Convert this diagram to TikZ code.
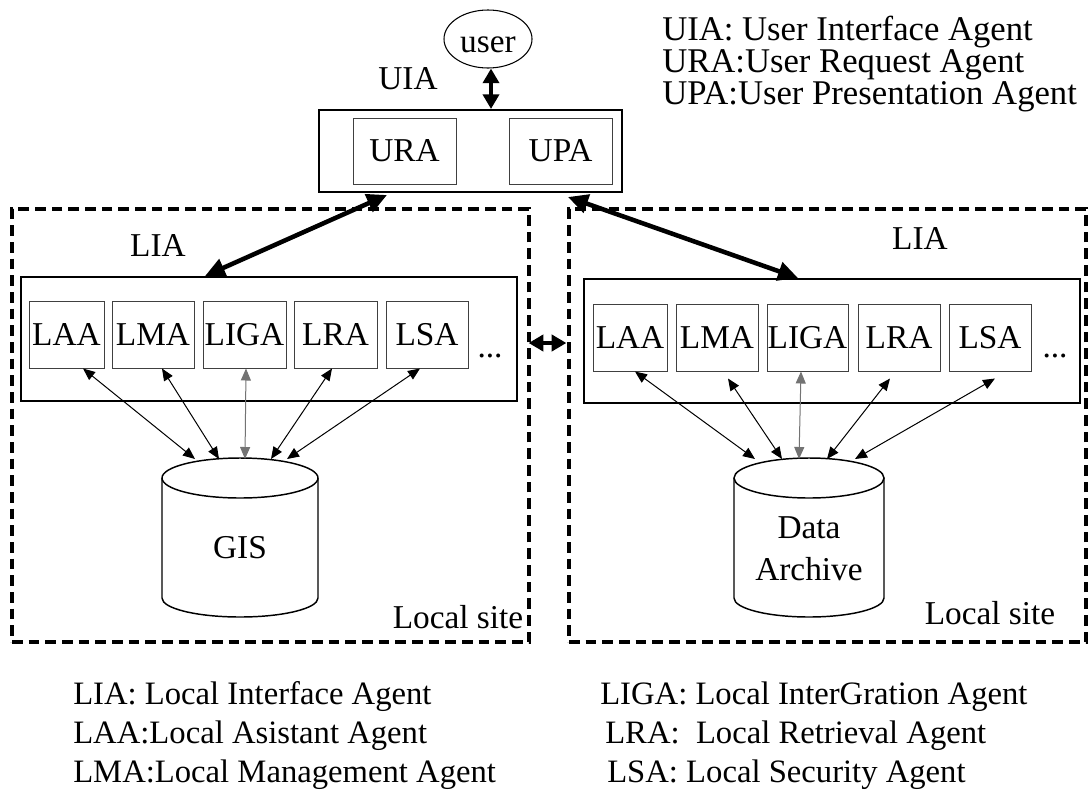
\documentclass[tikz,border=0pt]{standalone}
\usepackage{fontspec}
\setmainfont{Liberation Serif}
\usetikzlibrary{arrows.meta,calc,shapes.geometric}
\begin{document}
\begin{tikzpicture}[x=0.75pt,y=-0.75pt,
  every node/.style={font=\fontsize{25}{31.5}\selectfont, inner sep=0pt},
  agent/.style={draw=black!75, line width=0.75pt, minimum height=50.25pt},
  outer/.style={draw, line width=1.5pt},
  site/.style={draw, line width=2.4pt, dash pattern=on 8pt off 4.5pt},
  bigarrow/.style={line width=3.4pt, {Triangle[length=15pt,width=14pt]}-{Triangle[length=15pt,width=14pt]}},
  midarrow/.style={line width=3.4pt, {Triangle[length=11pt,width=12pt]}-{Triangle[length=11pt,width=12pt]}},
  thinarrow/.style={line width=0.75pt, {Triangle[length=9pt,width=7.5pt]}-{Triangle[length=9pt,width=7.5pt]}},
  grayarrow/.style={thinarrow, draw=black!55, {Triangle[length=9pt,width=7.5pt]}-{Triangle[length=9pt,width=7.5pt]}},
  cyl/.style={line width=1.1pt},
  legendtop/.style={anchor=base west, font=\fontsize{26}{30}\selectfont},
  legendbot/.style={anchor=base west, font=\fontsize{24.5}{30}\selectfont}
]
\useasboundingbox (0,0) rectangle (1090,790);

% local sites
\node[site, minimum width=387.75pt, minimum height=324.75pt] (siteL) at (270.5,425.5) {};
\node[site, minimum width=387.75pt, minimum height=324.75pt] (siteR) at (827.5,425.5) {};

% user and UIA
\node[draw, ellipse, line width=0.8pt, minimum width=66pt, minimum height=43.5pt, text height=19.5pt, text depth=0pt] (user) at (488,39) {user};
\node (uialbl) at (408,79) {UIA};
\node[outer, minimum width=227.25pt, minimum height=61.5pt] (uia) at (470.5,151) {};
\node[agent, minimum width=77.25pt, minimum height=49.5pt] (ura) at (404.5,151) {URA};
\node[agent, minimum width=77.25pt, minimum height=49.5pt] (upa) at (560.5,151) {UPA};

% left LIA
\node (lialblL) at (158,245) {LIA};
\node[outer, minimum width=372pt, minimum height=93pt] (liaL) at (269,339) {};
\node[agent, minimum width=56.25pt] (lLAA) at (66.5,334.5) {LAA};
\node[agent, minimum width=61.5pt] (lLMA) at (153,334.5) {LMA};
\node[agent, minimum width=62.25pt] (lLIGA) at (244.5,334.5) {LIGA};
\node[agent, minimum width=62.25pt] (lLRA) at (335.5,334.5) {LRA};
\node[agent, minimum width=61.5pt] (lLSA) at (427,334.5) {LSA};
\node[anchor=base] (dotsL) at (490,357) {...};

% right LIA
\node (lialblR) at (920,238) {LIA};
\node[outer, minimum width=372pt, minimum height=93pt] (liaR) at (832,341) {};
\node[agent, minimum width=55.5pt] (rLAA) at (630,337.5) {LAA};
\node[agent, minimum width=61.5pt] (rLMA) at (717,337.5) {LMA};
\node[agent, minimum width=60.75pt] (rLIGA) at (807.5,337.5) {LIGA};
\node[agent, minimum width=61.5pt] (rLRA) at (899,337.5) {LRA};
\node[agent, minimum width=61.5pt] (rLSA) at (990,337.5) {LSA};
\node[anchor=base] (dotsR) at (1055,357) {...};

% cylinders
\draw[cyl] (162,598) -- (162,478) (318,478) -- (318,598) arc[start angle=0, end angle=-180, x radius=58.5pt, y radius=14.25pt];
\draw[cyl] (240,478) ellipse[x radius=58.5pt, y radius=15pt];
\coordinate (gistop) at (240,459);
\node (gis) at (240,548) {GIS};

\draw[cyl] (734,598) -- (734,478) (884,478) -- (884,598) arc[start angle=0, end angle=-180, x radius=56.25pt, y radius=14.25pt];
\draw[cyl] (809,478) ellipse[x radius=56.25pt, y radius=15pt];
\coordinate (datop) at (809,459);
\node[align=center] (da) at (809,549) {Data\\Archive};

\node (siteLlbl) at (458,617) {Local site};
\node (siteRlbl) at (990,613) {Local site};

% thick arrows
\draw[midarrow] ($(user.south)+(3,0)$) -- ($(uia.north)+(20.5,0)$);
\draw[bigarrow] ($(uia.south)+(-83.5,2)$) -- ($(liaL.north)+(-64,0)$);
\draw[bigarrow] ($(uia.south)+(97.5,4)$) -- ($(liaR.north)+(-34,0)$);
\draw[midarrow] ($(siteL.east)+(-2,-82.5)$) -- ($(siteR.west)+(-1,-82.5)$);

% thin arrows left
\draw[thinarrow] ($(lLAA.south)+(16.5,0)$) -- ($(gistop)+(-45,0)$);
\draw[thinarrow] ($(lLMA.south)+(9,0)$) -- ($(gistop)+(-21,0)$);
\draw[grayarrow] ($(lLIGA.south)+(1.5,0)$) -- ($(gistop)+(5,0)$);
\draw[thinarrow] ($(lLRA.south)+(-3.5,0)$) -- ($(gistop)+(31,0)$);
\draw[thinarrow] ($(lLSA.south)+(-7,0)$) -- ($(gistop)+(47,0)$);

% thin arrows right
\draw[thinarrow] ($(rLAA.south)+(5,0)$) -- ($(datop)+(-54,0)$);
\draw[thinarrow] ($(rLMA.south)+(11,7)$) -- ($(datop)+(-27,0)$);
\draw[grayarrow] ($(rLIGA.south)+(-6.5,0)$) -- ($(datop)+(-10,0)$);
\draw[thinarrow] ($(rLRA.south)+(-9,7)$) -- ($(datop)+(18,0)$);
\draw[thinarrow] ($(rLSA.south)+(5,7)$) -- ($(datop)+(46,0)$);

% legends
\node[legendtop] (lg1) at (662,40) {UIA: User Interface Agent};
\node[legendtop] (lg2) at (662,72) {URA:User Request Agent};
\node[legendtop] (lg3) at (662,104) {UPA:User Presentation Agent};

\node[legendbot] (lb1) at (73,704) {LIA: Local Interface Agent};
\node[legendbot] (lb2) at (73,743) {LAA:Local Asistant Agent};
\node[legendbot] (lb3) at (73,782) {LMA:Local Management Agent};
\node[legendbot] (lb4) at (600,704) {LIGA: Local InterGration Agent};
\node[legendbot] (lb5) at (605,743) {LRA:\ \ Local Retrieval Agent};
\node[legendbot] (lb6) at (607,782) {LSA: Local Security Agent};
\end{tikzpicture}
\end{document}
